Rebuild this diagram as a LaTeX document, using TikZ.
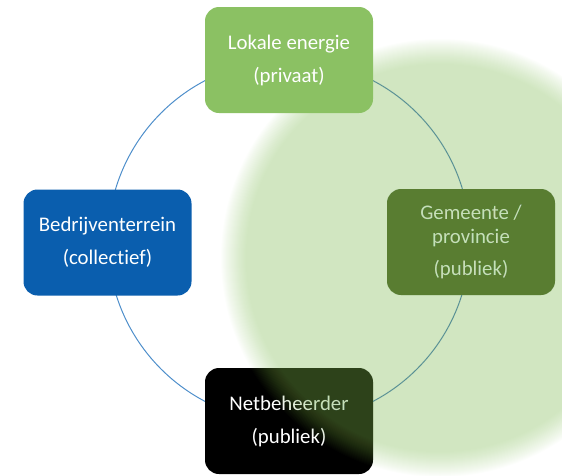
\documentclass[tikz,border=0pt]{standalone}
\usepackage{fontspec}
\setmainfont{Carlito}[Ligatures=NoCommon]
\definecolor{lokgreen}{HTML}{8BC163}
\definecolor{gemgreen}{HTML}{3F6327}
\definecolor{bedblue}{HTML}{0A5EAE}
\definecolor{ringblue}{HTML}{4F8FCB}
\tikzset{
  actor/.style={rectangle, rounded corners=14pt, minimum width=168pt,
    minimum height=106pt, inner sep=0pt, align=center, text=white,
    font=\fontsize{20.8}{23.5}\selectfont},
  ring/.style={draw=ringblue, line width=1pt},
}
\begin{document}
\begin{tikzpicture}[x=1pt, y=-1pt]
  \useasboundingbox (0,0) rectangle (562,475);
  \clip (0,0) rectangle (562,475);
  \coordinate (hub) at (289,241);
  \coordinate (glow) at (440,258);
  % ring linking the four parties
  \draw[ring] (hub) circle[radius=181pt];
  % parties below the green glow
  \node[actor, fill=gemgreen] (gem) at (471,242) {Gemeente /\\provincie\\[9pt](publiek)};
  \node[actor, fill=black] (net) at (289,421) {Netbeheerder\\[9.5pt](publiek)};
  \node[actor, fill=bedblue] (bed) at (107.5,242.5) {Bedrijventerrein\\[9.5pt](collectief)};
  % soft translucent green glow, built from stacked rings
  \foreach \k in {0,...,25}
    \fill[lokgreen, opacity=0.0201] (glow) circle[radius={(194+\k)*1pt}];
  % party drawn above the glow
  \node[actor, fill=lokgreen] (lok) at (289,60) {Lokale energie\\[9.5pt](privaat)};
\end{tikzpicture}
\end{document}
